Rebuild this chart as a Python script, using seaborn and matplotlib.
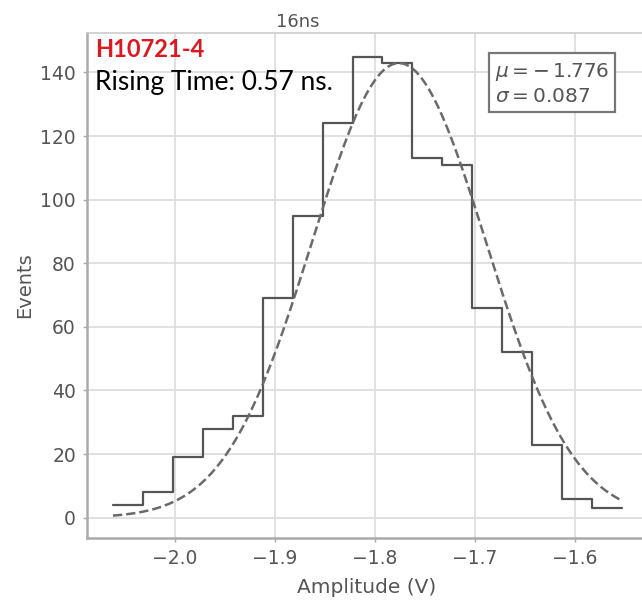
import numpy as np
import pandas as pd
import matplotlib
matplotlib.use("Agg")
import matplotlib.pyplot as plt
import seaborn as sns

# ---- data ----
counts = [4, 8, 19, 28, 32, 69, 95, 124, 145, 143, 113, 111, 66, 52, 23, 6, 3]
first_edge = -2.062
last_edge = -1.553
mu = -1.776
sigma = 0.087
title = "16ns"
device = "H10721-4"
rise_text = "Rising Time: 0.57 ns."
x_ticks = [-2.0, -1.9, -1.8, -1.7, -1.6]
y_ticks = [0, 20, 40, 60, 80, 100, 120, 140]

sns.set_theme(style="whitegrid")
plt.rcParams["font.family"] = ["DejaVu Sans"]

fig = plt.figure(figsize=(6.42, 6.03), dpi=100)
ax = fig.add_axes([87 / 642, (603 - 538) / 603, 558.5 / 642, 505 / 603])

edges = np.linspace(first_edge, last_edge, len(counts) + 1)
step_df = pd.DataFrame({"x": edges, "y": counts + [counts[-1]]})
sns.lineplot(data=step_df, x="x", y="y", drawstyle="steps-post", color="#555555",
             lw=1.6, ax=ax, sort=False)

bw = edges[1] - edges[0]
xs = np.linspace(first_edge, last_edge, 300)
amp = sum(counts) * bw / (sigma * np.sqrt(2 * np.pi))
fit_df = pd.DataFrame({"x": xs, "y": amp * np.exp(-0.5 * ((xs - mu) / sigma) ** 2)})
sns.lineplot(data=fit_df, x="x", y="y", color="#6a6a6a", lw=1.8, ls="--", ax=ax, sort=False)

ax.set_xlim(-2.088, -2.088 + 0.5585)
ax.set_ylim(-6.4, 152.4)
ax.set_xticks(x_ticks)
ax.set_xticklabels([f"{t:.1f}".replace("-", "\u2212") for t in x_ticks])
ax.set_yticks(y_ticks)

for s in ["left", "bottom"]:
    ax.spines[s].set_color("#aaaaaa")
    ax.spines[s].set_linewidth(1.8)
ax.spines["top"].set_color("#cccccc")
ax.spines["top"].set_linewidth(1.2)
ax.spines["right"].set_visible(False)
ax.grid(True, color="#dcdcdc", lw=1.2)
ax.tick_params(axis="both", which="major", length=3, width=1, color="#aaaaaa",
               labelsize=13.5, labelcolor="#555555", pad=5, left=True, bottom=True)

ax.set_xlabel("Amplitude (V)", fontsize=14.5, color="#555555", labelpad=7)
ax.set_ylabel("Events", fontsize=14, color="#555555", labelpad=4)
ax.set_title(title, fontsize=13, color="#555555", x=(298 - 87) / 558.5, pad=4)

ax.text(0.7305, 0.944, "$\\mu = -\\,1.776$\n$\\sigma = 0.087$", transform=ax.transAxes,
        ha="left", va="top", fontsize=14.5, color="#555555", linespacing=1.25,
        bbox=dict(boxstyle="square,pad=0.3", fc="white", ec="#777777", lw=1.6))

fig.text(95 / 642, 1 - 38 / 603, device, ha="left", va="top", color="#dc1820",
         fontsize=17, fontweight="bold", family=["Lato", "DejaVu Sans"])
fig.text(95 / 642, 1 - 90 / 603, rise_text, ha="left", va="baseline", color="black",
         fontsize=19, family=["Lato", "DejaVu Sans"])

fig.savefig("out.png", dpi=100)
